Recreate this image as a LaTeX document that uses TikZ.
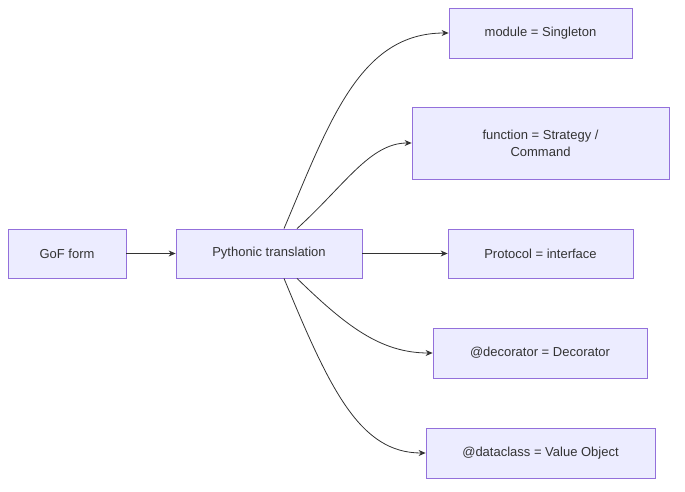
\documentclass[tikz,border=0pt]{standalone}
\usepackage{fontspec}
\setmainfont{Liberation Sans}
\usetikzlibrary{arrows.meta}
\definecolor{boxfill}{HTML}{ECECFF}
\definecolor{boxline}{HTML}{9370DB}
\definecolor{ink}{HTML}{333333}
\tikzset{>={Stealth[length=7pt,width=6pt]}}
\tikzset{box/.style={draw=boxline,fill=boxfill,line width=0.8pt,text=ink,
  font=\fontsize{13}{17}\selectfont,align=center,inner sep=0pt}}
\tikzset{link/.style={->,draw=ink,line width=0.8pt}}

\begin{document}
\begin{tikzpicture}[x=1pt,y=-1pt]
  \useasboundingbox (0,0) rectangle (685,492);
  \node[box,minimum width=118pt,minimum height=49pt] (gof) at (67,253.5) {GoF form};
  \node[box,minimum width=186pt,minimum height=49pt] (py) at (269,253.5) {Pythonic translation};
  \node[box,minimum width=183pt,minimum height=50pt] (mod) at (540.5,33) {module = Singleton};
  \node[box,minimum width=257pt,minimum height=72pt] (fun) at (540.5,143) {function = Strategy /\\Command};
  \node[box,minimum width=185pt,minimum height=49pt] (proto) at (540.5,253.5) {Protocol = interface};
  \node[box,minimum width=214pt,minimum height=50pt] (deco) at (540,353) {@decorator = Decorator};
  \node[box,minimum width=229pt,minimum height=50pt] (data) at (540.5,453) {@dataclass = Value Object};
  % connectors
  \draw[link] (gof) -- (py);
  \draw[link] (py) -- (proto);
  \draw[link] (py.north)++(15,0) .. controls (330,120) and (360,33) .. (mod.west);
  \draw[link] (py.north)++(28,0) .. controls (345,185) and (370,143) .. (fun.west);
  \draw[link] (py.south)++(28,0) .. controls (345,325) and (380,353) .. (deco.west);
  \draw[link] (py.south)++(15,0) .. controls (330,390) and (360,453) .. (data.west);
\end{tikzpicture}
\end{document}
